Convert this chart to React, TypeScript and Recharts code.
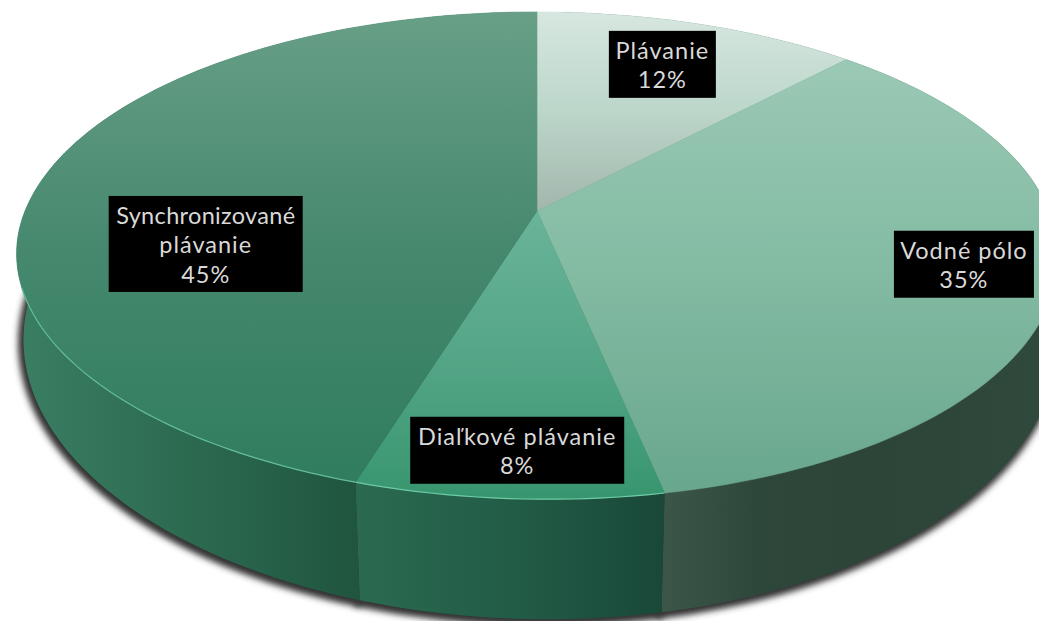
import { Pie, PieChart } from "recharts";

const CATEGORIES = ["Plávanie", "Vodné pólo", "Diaľkové plávanie", "Synchronizované plávanie"];
const SHARES = [12, 35, 8, 45];
const LABEL_LINES = [["Plávanie"], ["Vodné pólo"], ["Diaľkové plávanie"], ["Synchronizované", "plávanie"]];

const TOP_STOPS = [
	["#d6e7df", "#bcd6ca", "#a2b6ac"],
	["#a0ccb9", "#85bca4", "#68a78d"],
	["#6ab499", "#55a688", "#38966f"],
	["#689f87", "#45886e", "#2f7c5e"],
];
const SIDE_STOPS = [
	["#2e473b", "#2e473b", "#2e473b"],
	["#3b5649", "#2e473b", "#2c4538", "#2d4639", "#30493d"],
	["#2b6a50", "#225c47", "#194838"],
	["#3a7e63", "#2c6a50", "#205540"],
];
const RIM_COLORS = ["none", "none", "#6fcaa8", "#62bd9b"];

// label box size and nudge away from the projected slice middle
const LABEL_BOXES = [
	{ width: 107, dx: 0, dy: -1, fit: 0 },
	{ width: 140, dx: 43, dy: 2, fit: 0 },
	{ width: 214, dx: 2, dy: 35, fit: 0 },
	{ width: 194, dx: 40, dy: 60, fit: 179 },
];

const tableData = CATEGORIES.map((name, i) => ({ name, value: SHARES[i] }));

const WIDTH = 1039;
const HEIGHT = 621;
const CX = 537;
const CY = 211;
const RADIUS = 512;
const FLATTEN = 0.46;
const PERSPECTIVE = 0.183;
const SKEW = 11;

function project(cx: number, cy: number, radius: number, angle: number, r = 1) {
	const theta = ((90 - angle) * Math.PI) / 180;
	const s = r * Math.sin(theta);
	const c = r * Math.cos(theta);
	const w = 1 + PERSPECTIVE * c;
	const lean = c < 0 ? SKEW * c * c : 0;
	return {
		x: cx + (radius * s) / w + lean,
		y: cy - (radius * FLATTEN * c) / w,
		s,
		c,
	};
}

function sampleRim(props: any) {
	const { cx, cy, outerRadius, startAngle, endAngle } = props;
	const steps = Math.max(4, Math.ceil(Math.abs(endAngle - startAngle) / 1.5));
	const points = [];
	for (let i = 0; i <= steps; i++) {
		points.push(project(cx, cy, outerRadius, startAngle + ((endAngle - startAngle) * i) / steps));
	}
	return points;
}

// lower rim of the disc: the wall is taller at the front and narrows slightly
function toBase(p: { x: number; y: number; s: number; c: number }, cx: number) {
	const scale = p.s > 0 ? 1 - 0.025 * p.c * p.c : 0.987 - 0.012 * p.c * p.c;
	return { x: cx + (p.x - cx) * scale, y: p.y + 80 - 40 * p.c };
}

const toPath = (points: { x: number; y: number }[]) =>
	points.map((p, i) => `${i === 0 ? "M" : "L"}${p.x.toFixed(1)} ${p.y.toFixed(1)}`).join(" ");

function TopFace(props: any) {
	const idx = CATEGORIES.indexOf(props.name);
	const rim = sampleRim(props);
	const apex = { x: props.cx, y: props.cy };
	return (
		<g>
			<path d={`${toPath([apex, ...rim])} Z`} fill={`url(#top${idx})`} stroke={`url(#top${idx})`} strokeWidth={0.6} />
			{RIM_COLORS[idx] !== "none" && (
				<path d={toPath(rim.filter((p) => p.y > 285))} fill="none" stroke={RIM_COLORS[idx]} strokeWidth={1.2} />
			)}
		</g>
	);
}

function SideFace(props: any) {
	const idx = CATEGORIES.indexOf(props.name);
	const rim = sampleRim(props);
	const base = rim.map((p) => toBase(p, props.cx)).reverse();
	return <path d={`${toPath([...rim, ...base])} Z`} fill={`url(#side${idx})`} />;
}

function ShadowFace(props: any) {
	const rim = sampleRim(props).map((p) => toBase(p, props.cx));
	const apex = { x: props.cx, y: props.cy + 100 };
	return (
		<g filter="url(#discShadow)">
			<path
				d={`${toPath([apex, ...rim])} Z`}
				fill="#333333"
				stroke="#333333"
				strokeWidth={7}
				strokeLinejoin="round"
				transform="translate(-2 3)"
			/>
		</g>
	);
}

function SliceLabel(props: any) {
	const { cx, cy, outerRadius, midAngle, percent, name } = props;
	const idx = CATEGORIES.indexOf(name);
	const mid = project(cx, cy, outerRadius, midAngle, 0.75);
	const box = LABEL_BOXES[idx];
	const lines = [...LABEL_LINES[idx], `${Math.round(percent * 100)}%`];
	const boxHeight = lines.length * 29 + 9;
	const left = mid.x + box.dx - box.width / 2;
	const top = mid.y + box.dy - boxHeight / 2;
	return (
		<g>
			<rect x={left} y={top} width={box.width} height={boxHeight} fill="#000000" />
			{lines.map((line, i) => (
				<text
					key={line}
					x={left + box.width / 2}
					y={top + 28 + i * 29.3}
					textAnchor="middle"
					fontFamily="Lato, sans-serif"
					fontSize={23.5}
					letterSpacing={box.fit && i === 0 ? 0 : 1}
					textLength={box.fit && i === 0 ? box.fit : undefined}
					fill="#d9d9d9"
				>
					{line}
				</text>
			))}
		</g>
	);
}

function Gradients() {
	return (
		<defs>
			<filter id="discShadow" filterUnits="userSpaceOnUse" x={-40} y={0} width={1140} height={700}>
				<feGaussianBlur stdDeviation={3} />
			</filter>
			{TOP_STOPS.map((stops, i) => (
				<linearGradient
					key={i}
					id={`top${i}`}
					gradientUnits="userSpaceOnUse"
					x1={0}
					y1={i === 2 ? 211 : 12}
					x2={0}
					y2={i === 0 ? 211 : 495}
				>
					{stops.map((color, j) => (
						<stop key={j} offset={j / (stops.length - 1)} stopColor={color} />
					))}
				</linearGradient>
			))}
			{SIDE_STOPS.map((stops, i) => {
				const x1 = i === 3 ? 20 : i === 2 ? 355 : 665;
				const x2 = i === 3 ? 358 : i === 2 ? 665 : 1039;
				return (
					<linearGradient key={i} id={`side${i}`} gradientUnits="userSpaceOnUse" x1={x1} y1={0} x2={x2} y2={0}>
						{stops.map((color, j) => (
							<stop key={j} offset={j / (stops.length - 1)} stopColor={color} />
						))}
					</linearGradient>
				);
			})}
		</defs>
	);
}

export default function App() {
	return (
		<div style={{ position: "absolute", left: 0, top: 0, width: WIDTH, height: HEIGHT, overflow: "hidden", background: "#ffffff" }}>
			<PieChart width={WIDTH} height={HEIGHT} margin={{ top: 0, right: 0, bottom: 0, left: 0 }}>
				{Gradients()}
				<Pie
					data={tableData}
					dataKey="value"
					nameKey="name"
					cx={CX}
					cy={CY}
					outerRadius={RADIUS}
					startAngle={90}
					endAngle={-270}
					stroke="none"
					shape={ShadowFace}
					isAnimationActive={false}
				/>
				<Pie
					data={tableData}
					dataKey="value"
					nameKey="name"
					cx={CX}
					cy={CY}
					outerRadius={RADIUS}
					startAngle={90}
					endAngle={-270}
					stroke="none"
					shape={SideFace}
					isAnimationActive={false}
				/>
				<Pie
					data={tableData}
					dataKey="value"
					nameKey="name"
					cx={CX}
					cy={CY}
					outerRadius={RADIUS}
					startAngle={90}
					endAngle={-270}
					stroke="none"
					shape={TopFace}
					label={SliceLabel}
					labelLine={false}
					isAnimationActive={false}
				/>
			</PieChart>
		</div>
	);
}
